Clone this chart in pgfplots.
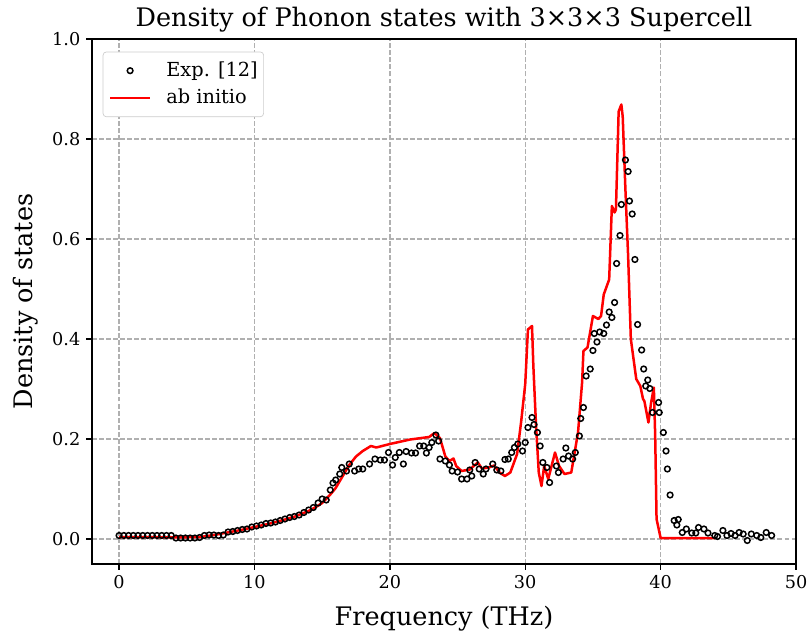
\documentclass[border=0pt]{standalone}
\usepackage{fontspec}
\setmainfont{DejaVu Serif}
\usepackage{pgfplots}
\pgfplotsset{compat=1.18}
\definecolor{gridgray}{RGB}{176,176,176}
\definecolor{legedge}{RGB}{204,204,204}
\begin{document}
\begin{tikzpicture}
\begin{axis}[
  name=ax,
  scale only axis,
  width=422.4pt, height=315pt,
  xmin=-2, xmax=50, ymin=-0.05, ymax=1.0,
  xtick={0,10,20,30,40,50},
  ytick={0,0.2,0.4,0.6,0.8,1.0},
  yticklabel style={/pgf/number format/.cd, fixed, fixed zerofill, precision=1},
  /pgf/number format/assume math mode=true,
  tick label style={font=\fontsize{10.6}{12.7}\selectfont, text=black},
  tick align=outside, tick pos=left,
  major tick length=3.5pt,
  every tick/.style={black, line width=0.8pt},
  axis line style={line width=0.8pt},
  grid=major,
  major grid style={gridgray, line width=0.8pt, dash pattern=on 2.96pt off 1.28pt},
  xlabel={Frequency (THz)}, ylabel={Density of states},
  label style={font=\fontsize{15.3}{18}\selectfont},
  xlabel style={at={(axis description cs:0.5,-0.1162)}, anchor=base},
  ylabel style={at={(axis description cs:-0.0852,0.5)}, anchor=base},
  title={Density of Phonon states with 3×3×3 Supercell},
  every axis title/.style={at={(axis description cs:0.5,1)}, anchor=base, yshift=7.2pt, font=\fontsize{15.3}{18}\selectfont},
  legend style={at={(0.0152,0.976)}, anchor=north west, draw=legedge, rounded corners=2pt,
    fill=white, font=\fontsize{11.6}{13.9}\selectfont, inner xsep=3.5pt, inner ysep=6pt,
    nodes={inner sep=0pt, text height=8.5pt, text depth=2pt},
    row sep=5.9pt, column sep=9pt},
  legend cell align=left,
  legend image code/.code={\draw[mark repeat=2,mark phase=2,#1] plot coordinates {(0pt,0pt) (12pt,0pt) (24pt,0pt)};},
]
\addplot[only marks, mark=o, mark size=1.7pt, mark options={line width=0.9pt, draw=black, fill=none}] table {
x y
0.0 0.007
0.35 0.007
0.7 0.007
1.05 0.007
1.4 0.007
1.75 0.007
2.1 0.007
2.45 0.007
2.8 0.007
3.15 0.007
3.5 0.007
3.85 0.007
4.2 0.002
4.55 0.002
4.9 0.002
5.25 0.002
5.6 0.002
5.95 0.003
6.3 0.007
6.65 0.008
7.0 0.008
7.35 0.007
7.7 0.008
8.05 0.014
8.4 0.015
8.75 0.017
9.1 0.019
9.45 0.020
9.8 0.024
10.15 0.026
10.5 0.028
10.85 0.031
11.2 0.032
11.55 0.034
11.9 0.037
12.25 0.040
12.6 0.043
12.95 0.045
13.3 0.048
13.65 0.053
14.0 0.058
14.35 0.063
14.7 0.072
15.0 0.080
15.3 0.078
15.6 0.098
15.8 0.112
16.0 0.118
16.3 0.130
16.45 0.143
16.8 0.136
17.0 0.150
17.4 0.136
17.7 0.140
18.0 0.140
18.5 0.150
18.9 0.160
19.3 0.158
19.6 0.158
19.9 0.173
20.2 0.148
20.4 0.163
20.7 0.173
21.0 0.150
21.2 0.175
21.6 0.172
21.9 0.172
22.2 0.186
22.5 0.186
22.7 0.172
22.9 0.183
23.1 0.193
23.4 0.208
23.6 0.196
23.7 0.160
24.1 0.156
24.4 0.148
24.6 0.136
25.0 0.134
25.3 0.120
25.7 0.120
25.9 0.138
26.05 0.126
26.3 0.153
26.6 0.140
26.9 0.130
27.1 0.140
27.6 0.150
27.9 0.138
28.2 0.136
28.5 0.159
28.75 0.160
29.0 0.173
29.2 0.183
29.45 0.190
29.8 0.176
30.0 0.193
30.2 0.223
30.5 0.243
30.65 0.229
30.9 0.213
31.1 0.186
31.3 0.153
31.6 0.143
31.8 0.113
32.3 0.146
32.45 0.133
32.8 0.160
33.0 0.182
33.2 0.166
33.5 0.160
33.7 0.173
34.0 0.206
34.1 0.241
34.3 0.263
34.5 0.326
34.8 0.340
35.0 0.377
35.1 0.411
35.3 0.394
35.5 0.414
35.8 0.411
36.0 0.428
36.2 0.454
36.4 0.443
36.6 0.473
36.75 0.551
37.0 0.607
37.1 0.669
37.4 0.758
37.6 0.735
37.7 0.676
37.9 0.650
38.1 0.559
38.3 0.429
38.6 0.378
38.75 0.340
38.9 0.306
39.05 0.318
39.2 0.301
39.4 0.253
39.85 0.273
39.9 0.253
40.2 0.213
40.4 0.176
40.5 0.140
40.7 0.088
41.0 0.037
41.2 0.028
41.3 0.039
41.6 0.013
41.9 0.020
42.3 0.012
42.6 0.012
42.8 0.023
43.2 0.020
43.5 0.012
44.0 0.007
44.2 0.005
44.6 0.017
44.9 0.007
45.2 0.011
45.5 0.007
45.8 0.013
46.1 0.010
46.4 -0.003
46.7 0.010
47.1 0.007
47.4 0.003
47.8 0.013
48.2 0.007
};
\addlegendentry{Exp. [12]}
\addplot[red, line width=1.5pt, line join=round, no marks] table {
x y
0 0.004
2 0.004
4 0.003
6 0.004
7 0.008
8 0.013
9 0.018
10 0.024
11 0.030
12 0.037
13 0.045
14 0.056
14.6 0.065
15.0 0.072
15.3 0.080
15.7 0.092
16.0 0.102
16.5 0.125
17.0 0.148
17.5 0.165
18.0 0.176
18.6 0.186
19.0 0.183
20.0 0.190
21.5 0.199
22.9 0.204
23.3 0.212
23.7 0.202
24.1 0.165
24.4 0.156
24.7 0.161
24.9 0.146
25.3 0.136
25.9 0.139
26.5 0.153
26.8 0.141
27.3 0.143
27.7 0.147
28.1 0.133
28.5 0.126
28.9 0.133
29.4 0.170
29.7 0.235
30.0 0.310
30.2 0.419
30.5 0.426
30.6 0.346
30.8 0.226
31.0 0.133
31.2 0.106
31.4 0.146
31.7 0.120
32.2 0.173
32.5 0.146
32.9 0.130
33.4 0.133
33.9 0.213
34.2 0.313
34.3 0.376
34.6 0.383
35.0 0.446
35.4 0.440
35.6 0.446
35.8 0.489
36.2 0.519
36.4 0.666
36.6 0.653
36.7 0.659
36.9 0.855
37.1 0.869
37.2 0.845
37.4 0.699
37.6 0.566
37.8 0.400
38.2 0.320
38.5 0.306
38.7 0.280
38.8 0.276
39.1 0.233
39.3 0.273
39.5 0.303
39.6 0.206
39.7 0.040
40.0 0.002
44.0 0.002
};
\addlegendentry{ab initio}
\end{axis}
\pgfresetboundingbox
\path[use as bounding box] ([shift={(-55.2pt,-44.4pt)}]ax.south west) rectangle ([shift={(9pt,23.4pt)}]ax.north east);
\end{tikzpicture}
\end{document}
